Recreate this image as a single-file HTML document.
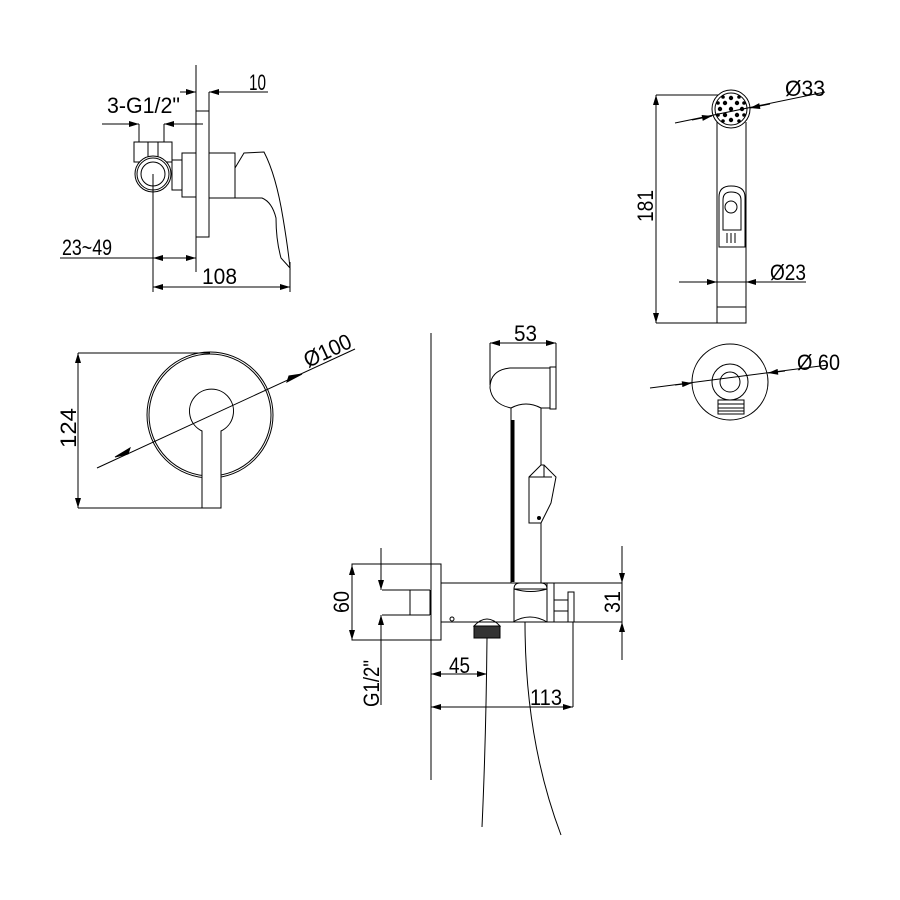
<!DOCTYPE html>
<html><head><style>html,body{margin:0;padding:0;background:#fff}svg{display:block}</style></head>
<body>
<svg width="900" height="900" viewBox="0 0 900 900" xmlns="http://www.w3.org/2000/svg" font-family="'Liberation Sans',sans-serif" font-size="22">
<defs>
<marker id="a" viewBox="0 0 10 6" refX="10" refY="3" markerWidth="16" markerHeight="6" markerUnits="userSpaceOnUse" orient="auto"><path d="M0,0 L10,3 L0,6z" fill="#000"/></marker>
</defs>
<g fill="none" stroke="#000" stroke-width="1">
<!-- Top-left mixer -->
<line x1="196" y1="65" x2="196" y2="272"/>
<line x1="180" y1="92" x2="196" y2="92" marker-end="url(#a)"/>
<line x1="268" y1="92" x2="209" y2="92" marker-end="url(#a)"/>
<line x1="209" y1="92" x2="209" y2="111"/>
<rect x="196" y="111" width="13" height="126"/>
<line x1="102" y1="124" x2="139" y2="124" marker-end="url(#a)"/>
<line x1="203" y1="124" x2="164" y2="124" marker-end="url(#a)"/>
<line x1="139" y1="124" x2="139" y2="142"/>
<line x1="164" y1="124" x2="164" y2="142"/>
<rect x="134" y="142" width="38" height="20"/>
<rect x="148" y="142" width="10" height="16"/>
<circle cx="153" cy="174" r="18" fill="#fff"/>
<circle cx="153" cy="174" r="16"/>
<circle cx="153" cy="174" r="12"/>
<rect x="172" y="160" width="10" height="30"/>
<rect x="182" y="153" width="14" height="44"/>
<rect x="209" y="153" width="26" height="45"/>
<path d="M235 168 L244 153 L264 152 Q276 175 283 218 Q288 248 290 268 L281 258 Q276 240 276 218 Q272 202 262 198 L235 198 Z"/>
<line x1="153" y1="174" x2="153" y2="292"/>
<line x1="290" y1="262" x2="290" y2="292"/>
<line x1="60" y1="258" x2="153" y2="258"/>
<line x1="175" y1="258" x2="153" y2="258" marker-end="url(#a)"/>
<line x1="175" y1="258" x2="196" y2="258" marker-end="url(#a)"/>
<line x1="220" y1="287" x2="153" y2="287" marker-end="url(#a)"/>
<line x1="220" y1="287" x2="290" y2="287" marker-end="url(#a)"/>

<!-- Round plate -->
<circle cx="210" cy="415" r="63"/>
<circle cx="210" cy="415" r="61"/>
<path d="M202 431 A22 22 0 1 1 221 431 L221 508 L202 508 Z" fill="#fff"/>
<line x1="78" y1="353" x2="210" y2="353"/>
<line x1="78" y1="508" x2="205" y2="508"/>
<line x1="78" y1="430" x2="78" y2="353" marker-end="url(#a)"/>
<line x1="78" y1="430" x2="78" y2="508" marker-end="url(#a)"/>
<line x1="97" y1="468" x2="355" y2="349"/>
<path d="M115 457 L130 448 L128 454Z" fill="#000"/>
<path d="M302 374 L287 382 L289 376Z" fill="#000"/>

<!-- Hand spray top-right -->
<line x1="656" y1="95" x2="732" y2="95"/>
<line x1="656" y1="323" x2="717" y2="323"/>
<line x1="656" y1="210" x2="656" y2="95" marker-end="url(#a)"/>
<line x1="656" y1="210" x2="656" y2="323" marker-end="url(#a)"/>
<path d="M717 122 L717 323 L746 323 L746 122"/>
<line x1="717" y1="307" x2="746" y2="307"/>
<circle cx="731" cy="109" r="19" fill="#fff"/>
<circle cx="731" cy="109" r="16"/>
<path d="M719 247 L719 197 Q719 186 731 186 Q745 186 745 197 L745 247 Z"/>
<path d="M723 230 L723 200 Q723 192 731 192 Q741 192 741 200 L741 230 Z"/>
<circle cx="731" cy="207" r="6"/>
<line x1="723" y1="230" x2="741" y2="230"/>
<line x1="727" y1="233" x2="727" y2="243"/><line x1="731" y1="233" x2="731" y2="243"/><line x1="735" y1="233" x2="735" y2="243"/>
<line x1="675" y1="123" x2="825" y2="92"/>
<line x1="692" y1="120" x2="712" y2="116" marker-end="url(#a)"/>
<line x1="770" y1="104" x2="750" y2="108" marker-end="url(#a)"/>
<line x1="679" y1="282" x2="806" y2="282"/>
<line x1="700" y1="282" x2="717" y2="282" marker-end="url(#a)"/>
<line x1="765" y1="282" x2="746" y2="282" marker-end="url(#a)"/>
<circle cx="730" cy="382" r="38"/>
<circle cx="730" cy="382" r="18"/>
<circle cx="730" cy="382" r="10"/>
<rect x="718" y="400" width="26" height="14" fill="#fff"/>
<line x1="718" y1="404" x2="744" y2="404"/><line x1="718" y1="408" x2="744" y2="408"/><line x1="718" y1="411" x2="744" y2="411"/>
<line x1="650" y1="388" x2="828" y2="365"/>
<line x1="675" y1="385" x2="692" y2="383" marker-end="url(#a)"/>
<line x1="785" y1="371" x2="768" y2="373" marker-end="url(#a)"/>

<!-- Bottom assembly -->
<line x1="431" y1="333" x2="431" y2="780"/>
<line x1="490" y1="343" x2="490" y2="385"/>
<line x1="556" y1="343" x2="556" y2="370"/>
<line x1="523" y1="343" x2="490" y2="343" marker-end="url(#a)"/>
<line x1="523" y1="343" x2="556" y2="343" marker-end="url(#a)"/>
<path d="M550 368 L510 368 Q490 370 490 388 Q492 404 511 408 Q526 400 541 408 L550 408 Z"/>
<rect x="550" y="367" width="6" height="42"/>
<line x1="511" y1="408" x2="511" y2="583"/>
<line x1="541" y1="408" x2="541" y2="465"/>
<line x1="541" y1="523" x2="541" y2="583"/>
<line x1="513" y1="420" x2="513" y2="582" stroke-width="3"/>
<path d="M529 477 L529 523 L541 523 L551 503 L556 477 L544 465 L541 465 L529 477 Z"/>
<line x1="529" y1="477" x2="552" y2="477"/>
<line x1="544" y1="465" x2="544" y2="477"/>
<circle cx="539" cy="518" r="1.5" fill="#000"/>
<rect x="352" y="564" width="89" height="76"/>
<line x1="441" y1="583" x2="622" y2="583"/>
<line x1="441" y1="622" x2="622" y2="622"/>
<line x1="382" y1="590" x2="430" y2="590"/>
<line x1="382" y1="615" x2="430" y2="615"/>
<line x1="410" y1="590" x2="410" y2="615"/>
<line x1="430" y1="590" x2="430" y2="615"/>
<line x1="352" y1="602" x2="352" y2="565" marker-end="url(#a)"/>
<line x1="352" y1="602" x2="352" y2="640" marker-end="url(#a)"/>
<line x1="381" y1="548" x2="381" y2="590" marker-end="url(#a)"/>
<line x1="381" y1="705" x2="381" y2="615" marker-end="url(#a)"/>
<path d="M514 589 Q514 583 520 583 L541 583 Q547 583 547 589 Q531 594 514 589 Z"/>
<rect x="514" y="589" width="33" height="33"/>
<path d="M513 622 Q530 612 547 622"/>
<rect x="547" y="583" width="7" height="39"/>
<line x1="554" y1="600" x2="568" y2="600"/><line x1="554" y1="611" x2="568" y2="611"/>
<rect x="568" y="592" width="6" height="30"/>
<circle cx="452" cy="619" r="2"/>
<path d="M474 626 Q487 612 500 626 Z"/>
<rect x="474" y="626" width="26" height="12" fill="#333"/>
<line x1="622" y1="546" x2="622" y2="583" marker-end="url(#a)"/>
<line x1="622" y1="660" x2="622" y2="622" marker-end="url(#a)"/>
<line x1="622" y1="583" x2="622" y2="622"/>
<line x1="458" y1="674" x2="431" y2="674" marker-end="url(#a)"/>
<line x1="458" y1="674" x2="487" y2="674" marker-end="url(#a)"/>
<line x1="500" y1="707" x2="431" y2="707" marker-end="url(#a)"/>
<line x1="500" y1="707" x2="573" y2="707" marker-end="url(#a)"/>
<line x1="573" y1="622" x2="573" y2="707"/>
<path d="M487 638 Q486 740 482 827"/>
<path d="M525 622 Q525 740 561 835"/>
</g>
<g fill="#000">
<circle cx="731" cy="109" r="2.2"/><circle cx="725" cy="103" r="2.2"/><circle cx="737" cy="103" r="2.2"/><circle cx="725" cy="115" r="2.2"/><circle cx="737" cy="115" r="2.2"/>
<circle cx="731" cy="98" r="2.2"/><circle cx="731" cy="120" r="2.2"/><circle cx="720" cy="109" r="2.2"/><circle cx="742" cy="109" r="2.2"/>
<circle cx="723" cy="97" r="1.8"/><circle cx="739" cy="97" r="1.8"/><circle cx="723" cy="121" r="1.8"/><circle cx="739" cy="121" r="1.8"/>
<circle cx="718" cy="103" r="1.8"/><circle cx="744" cy="103" r="1.8"/><circle cx="718" cy="115" r="1.8"/><circle cx="744" cy="115" r="1.8"/>
</g>
<g fill="#000">
<text x="249" y="90" textLength="17" lengthAdjust="spacingAndGlyphs">10</text>
<text x="107" y="113" textLength="73" lengthAdjust="spacingAndGlyphs">3-G1/2"</text>
<text x="62" y="255" textLength="50" lengthAdjust="spacingAndGlyphs">23~49</text>
<text x="202" y="284" textLength="35" lengthAdjust="spacingAndGlyphs">108</text>
<text transform="translate(76,448) rotate(-90)" textLength="40" lengthAdjust="spacingAndGlyphs">124</text>
<text transform="translate(308,368) rotate(-25)" textLength="50" lengthAdjust="spacingAndGlyphs">Ø100</text>
<text transform="translate(653,222) rotate(-90)" textLength="32" lengthAdjust="spacingAndGlyphs">181</text>
<text x="785" y="96" textLength="40" lengthAdjust="spacingAndGlyphs">Ø33</text>
<text x="770" y="280" textLength="36" lengthAdjust="spacingAndGlyphs">Ø23</text>
<text x="797" y="370" textLength="43" lengthAdjust="spacingAndGlyphs">Ø 60</text>
<text x="514" y="341" textLength="23" lengthAdjust="spacingAndGlyphs">53</text>
<text transform="translate(349,613) rotate(-90)" textLength="22" lengthAdjust="spacingAndGlyphs">60</text>
<text transform="translate(379,707) rotate(-90)" textLength="47" lengthAdjust="spacingAndGlyphs">G1/2"</text>
<text transform="translate(620,613) rotate(-90)" textLength="22" lengthAdjust="spacingAndGlyphs">31</text>
<text x="449" y="673" textLength="21" lengthAdjust="spacingAndGlyphs">45</text>
<text x="530" y="705" textLength="32" lengthAdjust="spacingAndGlyphs">113</text>
</g>
</svg>
</body></html>
